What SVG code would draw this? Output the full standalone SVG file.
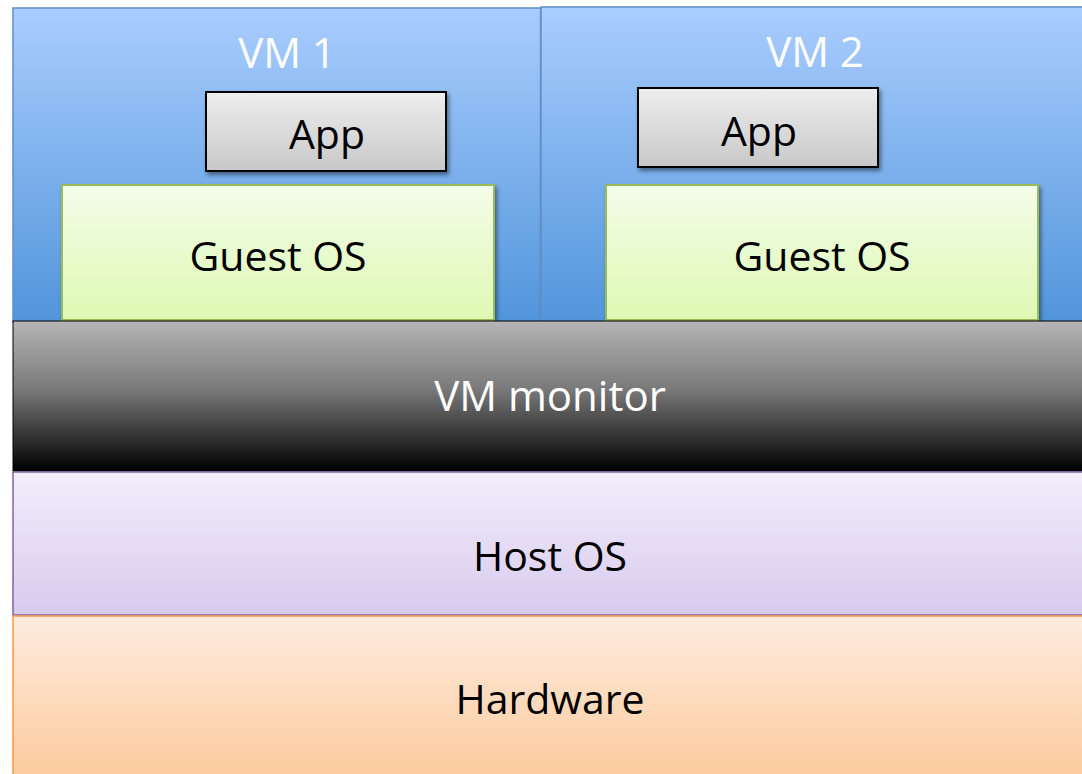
<svg xmlns="http://www.w3.org/2000/svg" width="1082" height="774" viewBox="0 0 1082 774">
  <defs>
    <linearGradient id="gVm" x1="0" y1="0" x2="0" y2="1">
      <stop offset="0" stop-color="#aacdfe"/>
      <stop offset="1" stop-color="#5195db"/>
    </linearGradient>
    <linearGradient id="gApp" x1="0" y1="0" x2="0" y2="1">
      <stop offset="0" stop-color="#eeeeee"/>
      <stop offset="1" stop-color="#c8c8c8"/>
    </linearGradient>
    <linearGradient id="gGuest" x1="0" y1="0" x2="0" y2="1">
      <stop offset="0" stop-color="#f3fdea"/>
      <stop offset="1" stop-color="#def9b3"/>
    </linearGradient>
    <linearGradient id="gMon" x1="0" y1="0" x2="0" y2="1">
      <stop offset="0" stop-color="#b5b5b5"/>
      <stop offset="0.45" stop-color="#7a7a7a"/>
      <stop offset="1" stop-color="#000000"/>
    </linearGradient>
    <linearGradient id="gHost" x1="0" y1="0" x2="0" y2="1">
      <stop offset="0" stop-color="#f2eefb"/>
      <stop offset="1" stop-color="#d8caee"/>
    </linearGradient>
    <linearGradient id="gHw" x1="0" y1="0" x2="0" y2="1">
      <stop offset="0" stop-color="#fdecdf"/>
      <stop offset="1" stop-color="#fdca9c"/>
    </linearGradient>
    <filter id="shadow" x="-5%" y="-10%" width="115%" height="130%">
      <feGaussianBlur in="SourceAlpha" stdDeviation="2"/>
      <feOffset dx="2" dy="3" result="b"/>
      <feComponentTransfer><feFuncA type="linear" slope="0.45"/></feComponentTransfer>
      <feMerge><feMergeNode/><feMergeNode in="SourceGraphic"/></feMerge>
    </filter>
  </defs>
  <style>
    text { font-family: "Open Sans", "Liberation Sans", sans-serif; text-anchor: middle; }
    .lbl { font-size: 41px; fill: #000; }
    .wlbl { font-size: 42px; fill: #fff; }
    .vm { fill: url(#gVm); stroke: #5f8fc8; stroke-width: 1.5; }
    .app { fill: url(#gApp); stroke: #000; stroke-width: 2; }
    .guest { fill: url(#gGuest); stroke: #9bbb59; stroke-width: 2; }
  </style>

  <rect width="1082" height="774" fill="#ffffff"/>

  <!-- virtual machines -->
  <g id="vm1">
    <rect class="vm" x="13" y="8" width="528" height="314"/>
    <text class="wlbl" x="287" y="68">VM 1</text>
  </g>
  <g id="vm2">
    <rect class="vm" x="541" y="7" width="545" height="315" filter="url(#shadow)"/>
    <text class="wlbl" x="815" y="67">VM 2</text>
  </g>
  <g id="app1">
    <rect class="app" x="206" y="92" width="240" height="79" filter="url(#shadow)"/>
    <text class="lbl" x="327" y="149">App</text>
  </g>
  <g id="guest1">
    <rect class="guest" x="62" y="185" width="432" height="135" filter="url(#shadow)"/>
    <text class="lbl" x="278" y="271">Guest OS</text>
  </g>
  <g id="app2">
    <rect class="app" x="638" y="88" width="240" height="79" filter="url(#shadow)"/>
    <text class="lbl" x="759" y="146">App</text>
  </g>
  <g id="guest2">
    <rect class="guest" x="606" y="185" width="432" height="135" filter="url(#shadow)"/>
    <text class="lbl" x="822" y="271">Guest OS</text>
  </g>

  <!-- lower layers -->
  <g id="monitor">
    <rect x="13" y="321" width="1075" height="150" fill="url(#gMon)" stroke="#000" stroke-width="1"/>
    <text class="wlbl" x="550" y="411">VM monitor</text>
  </g>
  <g id="host">
    <rect x="13" y="472" width="1075" height="143" fill="url(#gHost)" stroke="#8064a2" stroke-width="1.5"/>
    <text class="lbl" x="550" y="571">Host OS</text>
  </g>
  <g id="hardware">
    <rect x="13" y="616" width="1075" height="165" fill="url(#gHw)" stroke="#f79646" stroke-width="1.5"/>
    <text class="lbl" x="550" y="714">Hardware</text>
  </g>

  <g id="connectors"/>
</svg>
